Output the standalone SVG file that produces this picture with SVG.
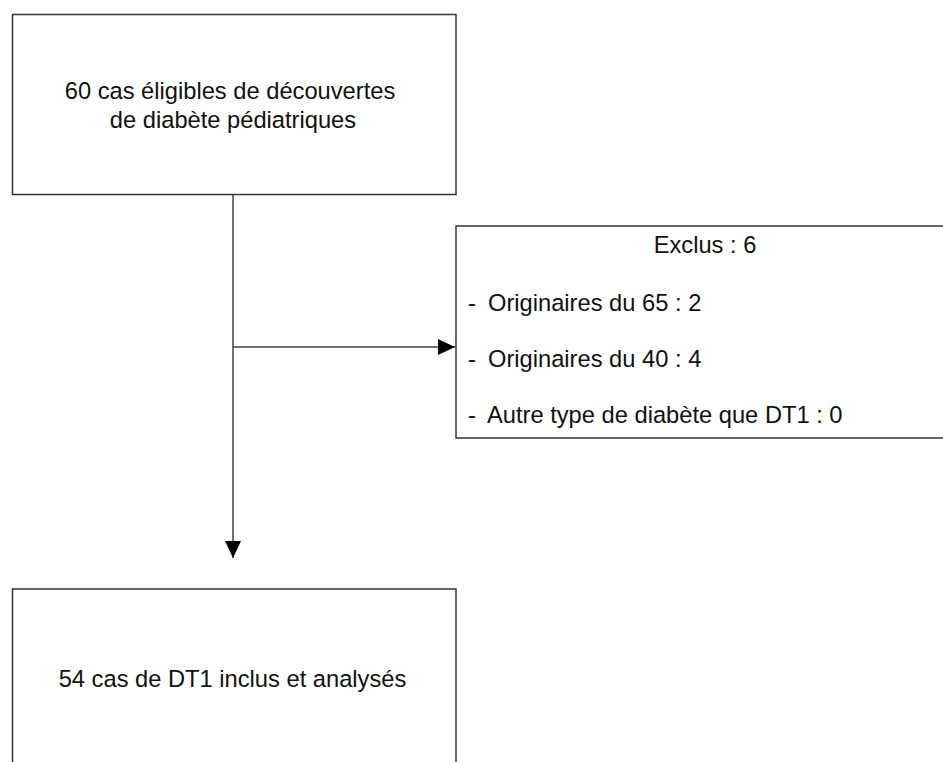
<svg xmlns="http://www.w3.org/2000/svg" width="943" height="762" viewBox="0 0 943 762">
<style>
.box{fill:#fff;stroke:#333;stroke-width:1.5}
.t{font-family:"Liberation Sans",Arial,sans-serif;font-size:23.7px;fill:#111}
.c{text-anchor:middle}
.ln{stroke:#444;stroke-width:1.5;fill:none}
</style>
<defs>
<marker id="ah" markerUnits="userSpaceOnUse" markerWidth="18" markerHeight="18" refX="17" refY="8" orient="auto">
<path d="M0,0 L17,8 L0,16 Z" fill="#000"/>
</marker>
</defs>
<rect width="943" height="762" fill="#fff"/>
<g id="connectors">
<line class="ln" x1="233" y1="195" x2="233" y2="558" marker-end="url(#ah)"/>
<line class="ln" x1="233" y1="347" x2="455" y2="347" marker-end="url(#ah)"/>
</g>
<g id="eligible">
<rect class="box" x="12.5" y="14.5" width="443.5" height="180"/>
<text class="t c" x="230" y="99">60 cas éligibles de découvertes</text>
<text class="t c" x="233" y="128">de diabète pédiatriques</text>
</g>
<g id="exclus">
<rect class="box" x="456" y="226" width="500" height="212"/>
<text class="t c" x="705" y="253">Exclus : 6</text>
<text class="t" x="468" y="311">-</text><text class="t" x="488" y="311">Originaires du 65 : 2</text>
<text class="t" x="468" y="367">-</text><text class="t" x="488" y="367">Originaires du 40 : 4</text>
<text class="t" x="468" y="423">-</text><text class="t" x="487" y="423">Autre type de diabète que DT1 : 0</text>
</g>
<g id="inclus">
<rect class="box" x="12.5" y="589" width="443.5" height="200"/>
<text class="t c" x="232.5" y="687">54 cas de DT1 inclus et analysés</text>
</g>
</svg>
